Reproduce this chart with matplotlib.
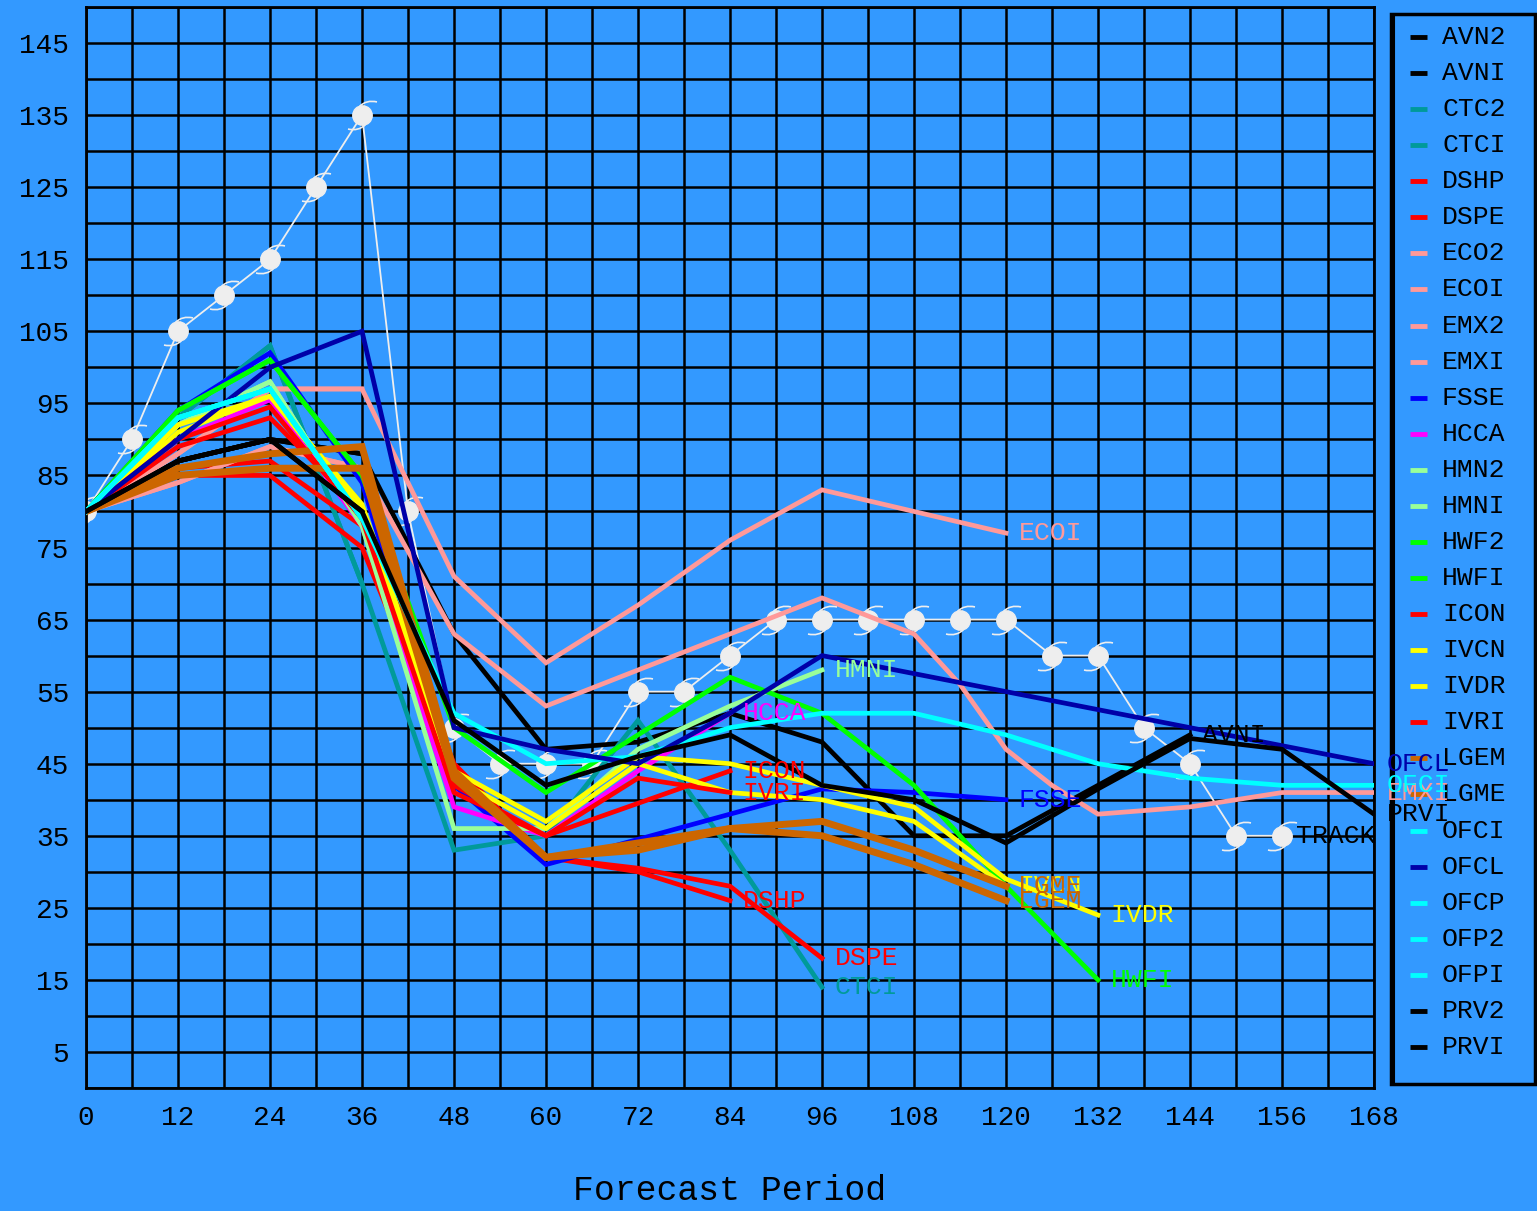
import matplotlib
matplotlib.use('Agg')
import matplotlib.pyplot as plt
from matplotlib.lines import Line2D
from matplotlib.patches import Rectangle
from matplotlib.path import Path

# ---------------- data ----------------
avn2_h = [0, 12, 24, 36]
avn2_v = [80, 87, 90, 88]
avni_h = [0, 12, 24, 36, 48, 60, 72, 84, 96, 108, 120, 132, 144]
avni_v = [80, 87, 90, 88, 63, 47, 48, 52, 48, 35, 35, 42, 49]
ctc2_h = [0, 12, 24, 36]
ctc2_v = [80, 93, 103, 70]
ctci_h = [0, 12, 24, 36, 48, 60, 72, 84, 96]
ctci_v = [80, 93, 103, 70, 33, 35, 51, 33, 14]
dshp_h = [0, 12, 24, 36, 48, 60, 72, 84]
dshp_v = [80, 85, 85, 75, 44, 32, 30, 26]
dspe_h = [0, 12, 24, 36, 48, 60, 72, 84, 96]
dspe_v = [80, 86, 87, 78, 45, 32, 30.5, 28, 18]
eco2_h = [0, 12, 24, 36]
eco2_v = [80, 88, 97, 97]
ecoi_h = [0, 12, 24, 36, 48, 60, 72, 84, 96, 108, 120]
ecoi_v = [80, 88, 97, 97, 71, 59, 67, 76, 83, 80, 77]
emx2_h = [0, 12, 24, 36]
emx2_v = [80, 84, 89, 86]
emxi_h = [0, 12, 24, 36, 48, 60, 72, 84, 96, 108, 114, 120, 126, 132, 138, 144, 150, 156, 162, 168]
emxi_v = [80, 84, 89, 86, 63, 53, 58, 63, 68, 63, 56, 47, 42, 38, 38.5, 39, 40, 41, 41, 41]
fsse_h = [0, 12, 24, 36, 48, 60, 72, 84, 96, 108, 120]
fsse_v = [80, 94, 102, 84, 42, 31, 34.5, 38, 41.5, 41, 40]
hcca_h = [0, 12, 24, 36, 48, 60, 72, 84]
hcca_v = [80, 90, 95.5, 78, 39, 35, 44, 52]
hmn2_h = [0, 12, 24, 36]
hmn2_v = [80, 92, 98, 78]
hmni_h = [0, 12, 24, 36, 48, 60, 72, 84, 96]
hmni_v = [80, 92, 98, 78, 36, 36, 47, 53, 58]
hwf2_h = [0, 12, 24, 36]
hwf2_v = [80, 94, 101, 85]
hwfi_h = [0, 12, 24, 36, 48, 60, 72, 84, 96, 108, 120, 132]
hwfi_v = [80, 94, 101, 85, 50, 41, 49, 57, 52, 42, 28, 15]
icon_h = [0, 12, 24, 36, 48, 60, 72, 84]
icon_v = [80, 89, 93, 80, 42, 35, 39.5, 44]
ivcn_h = [0, 12, 24, 36, 48, 60, 72, 84, 96, 108, 120]
ivcn_v = [80, 91, 96, 80, 43, 36, 45, 41, 40, 37, 28]
ivdr_h = [0, 12, 24, 36, 48, 60, 72, 84, 96, 108, 120, 132]
ivdr_v = [80, 92, 96, 81, 44, 37, 46, 45, 42, 39, 29, 24]
ivri_h = [0, 12, 24, 36, 48, 60, 72, 84]
ivri_v = [80, 90, 94.5, 79, 41, 35, 43, 41]
lgem_h = [0, 12, 24, 36, 48, 60, 72, 84, 96, 108, 120]
lgem_v = [80, 85, 86, 86, 43, 32, 33, 36, 35, 31, 26]
lgme_h = [0, 12, 24, 36, 48, 60, 72, 84, 96, 108, 120]
lgme_v = [80, 86, 88, 89, 44, 32, 34, 36, 37, 33, 28]
ofci_h = [0, 12, 24, 36, 48, 60, 72, 84, 96, 108, 120, 126, 132, 138, 144, 156, 168]
ofci_v = [80, 93, 97, 79, 52, 45, 46, 50, 52, 52, 49, 47, 45, 44, 43, 42, 42]
ofcl_h = [0, 12, 24, 36, 48, 60, 72, 84, 96, 108, 120, 132, 144, 156, 168]
ofcl_v = [80, 90, 100, 105, 50, 47, 45, 52, 60, 57.5, 55, 52.5, 50, 47.5, 45]
ofcp_h = [0, 12, 24, 36]
ofcp_v = [80, 93, 97, 79]
ofp2_h = [0, 12, 24, 36]
ofp2_v = [80, 93, 97, 79]
ofpi_h = [0, 12, 24, 36]
ofpi_v = [80, 93, 97, 79]
prv2_h = [0, 12, 24, 36]
prv2_v = [80, 87, 90, 80]
prvi_h = [0, 12, 24, 36, 48, 60, 72, 84, 96, 108, 120, 132, 144, 156, 168]
prvi_v = [80, 87, 90, 80, 51, 42, 46, 49, 42, 40, 34, 41.5, 48.5, 47, 38]

track_h = [0, 6, 12, 18, 24, 30, 36, 42, 48, 54, 60, 66, 72, 78, 84, 90, 96,
           102, 108, 114, 120, 126, 132, 138, 144, 150, 156]
track_v = [80, 90, 105, 110, 115, 125, 135, 80, 50, 45, 45, 45, 55, 55, 60, 65, 65,
           65, 65, 65, 65, 60, 60, 50, 45, 35, 35]

x_ticks = list(range(0, 169, 6))
x_labels = [str(h) if h % 12 == 0 else '' for h in x_ticks]
y_ticks = list(range(0, 151, 5))
y_labels = [str(v) if v % 10 == 5 else '' for v in y_ticks]
x_title = 'Forecast Period'

# ---------------- styles ----------------
BG = '#3399ff'
FONT = 'Liberation Mono'
C_BLACK = '#000000'
C_TEAL = '#009a9a'
C_RED = '#ff0000'
C_PINK = '#ff9999'
C_BLUE = '#0000ff'
C_MAG = '#ff00ff'
C_LGRN = '#99ff99'
C_GRN = '#00ff00'
C_YEL = '#ffff00'
C_ORG = '#cc6600'
C_CYAN = '#00ffff'
C_DBLUE = '#0000a8'

LW = 3.4
LWO = 5.0
# name, hours, values, colour, linewidth, end-label
models = [
    ('AVN2', avn2_h, avn2_v, C_BLACK, LW, False),
    ('AVNI', avni_h, avni_v, C_BLACK, LW, True),
    ('CTC2', ctc2_h, ctc2_v, C_TEAL, LW, False),
    ('CTCI', ctci_h, ctci_v, C_TEAL, LW, True),
    ('DSHP', dshp_h, dshp_v, C_RED, LW, True),
    ('DSPE', dspe_h, dspe_v, C_RED, LW, True),
    ('ECO2', eco2_h, eco2_v, C_PINK, LW, False),
    ('ECOI', ecoi_h, ecoi_v, C_PINK, LW, True),
    ('EMX2', emx2_h, emx2_v, C_PINK, LW, False),
    ('EMXI', emxi_h, emxi_v, C_PINK, LW, True),
    ('FSSE', fsse_h, fsse_v, C_BLUE, LW, True),
    ('HCCA', hcca_h, hcca_v, C_MAG, LW, True),
    ('HMN2', hmn2_h, hmn2_v, C_LGRN, LW, False),
    ('HMNI', hmni_h, hmni_v, C_LGRN, LW, True),
    ('HWF2', hwf2_h, hwf2_v, C_GRN, LW, False),
    ('HWFI', hwfi_h, hwfi_v, C_GRN, LW, True),
    ('ICON', icon_h, icon_v, C_RED, LW, True),
    ('IVCN', ivcn_h, ivcn_v, C_YEL, LW, True),
    ('IVDR', ivdr_h, ivdr_v, C_YEL, LW, True),
    ('IVRI', ivri_h, ivri_v, C_RED, LW, True),
    ('LGEM', lgem_h, lgem_v, C_ORG, LWO, True),
    ('LGME', lgme_h, lgme_v, C_ORG, LWO, True),
    ('OFCI', ofci_h, ofci_v, C_CYAN, LW, True),
    ('OFCL', ofcl_h, ofcl_v, C_DBLUE, LW, True),
    ('OFCP', ofcp_h, ofcp_v, C_CYAN, LW, False),
    ('OFP2', ofp2_h, ofp2_v, C_CYAN, LW, False),
    ('OFPI', ofpi_h, ofpi_v, C_CYAN, LW, False),
    ('PRV2', prv2_h, prv2_v, C_BLACK, LW, False),
    ('PRVI', prvi_h, prvi_v, C_BLACK, LW, True),
]

W, H = 1537, 1211
fig = plt.figure(figsize=(W / 100, H / 100), dpi=100, facecolor=BG)

# legend panel (drawn beneath the axes so end labels can overlap it)
lx0, ly0, lx1, ly1 = 1391, 14, 1535, 1084
fig.add_artist(Rectangle((lx0 / W, 1 - ly1 / H), (lx1 - lx0) / W, (ly1 - ly0) / H,
                         transform=fig.transFigure, facecolor=BG,
                         edgecolor='black', lw=2.5, zorder=-2))
fig.add_artist(Line2D([(lx0 + 3) / W] * 2, [1 - (ly0 + 2) / H, 1 - (ly1 - 2) / H],
                      transform=fig.transFigure, color='black', lw=1.5, zorder=-1))
row0, step = 37, 36.07
for i, (name, hh, vv, col, lw, lab) in enumerate(models):
    py = row0 + i * step
    fig.add_artist(Line2D([1410 / W, 1427 / W], [1 - py / H] * 2,
                          transform=fig.transFigure, color=col, lw=3.5,
                          solid_capstyle='butt', zorder=-1))
    t = fig.text(1442 / W, 1 - py / H, name, ha='left', va='center',
                 fontfamily=FONT, fontsize=19, color='black')
    t.set_zorder(-1)

L, R, T, B = 86, 1374, 7, 1088
ax = fig.add_axes([L / W, 1 - B / H, (R - L) / W, (B - T) / H], facecolor=BG)
ax.set_xlim(0, 168)
ax.set_ylim(0, 150)

ax.set_xticks(x_ticks)
ax.set_xticklabels(x_labels, fontfamily=FONT, fontsize=20)
ax.set_yticks(y_ticks)
ax.set_yticklabels(y_labels, fontfamily=FONT, fontsize=20)
ax.tick_params(length=0, pad=12, colors='black')
ax.grid(True, color='black', lw=1.8)
ax.set_axisbelow(True)
for s in ax.spines.values():
    s.set_color('black')
    s.set_linewidth(2)

# track with hurricane symbols
hook = Path([(-0.3, 0.95), (0.4, 1.65), (1.5, 1.4),
             (0.3, -0.95), (-0.4, -1.65), (-1.5, -1.4)],
            [Path.MOVETO, Path.CURVE3, Path.CURVE3,
             Path.MOVETO, Path.CURVE3, Path.CURVE3])
TC = '#eeeeee'
ax.plot(track_h, track_v, color=TC, lw=1.3, zorder=2)
ax.plot(track_h, track_v, ls='none', marker='o', ms=14, mfc=TC, mec=TC, zorder=2)
ax.plot(track_h, track_v, ls='none', marker=hook, ms=23, mfc='none', mec=TC,
        mew=1.2, zorder=2)
ax.annotate('TRACK', (track_h[-1], track_v[-1]), xytext=(10, 0),
            textcoords='offset points', va='center', ha='left',
            fontfamily=FONT, fontsize=19, color='black', zorder=6)

for name, hh, vv, col, lw, lab in models:
    ax.plot(hh, vv, color=col, lw=lw, solid_joinstyle='miter', zorder=3)
    if lab:
        ax.annotate(name, (hh[-1], vv[-1]), xytext=(9, 0),
                    textcoords='offset points', va='center', ha='left',
                    fontfamily=FONT, fontsize=19, color=col, zorder=6,
                    annotation_clip=False)

fig.text(730 / W, 1 - 1190 / H, x_title, ha='center', va='center',
         fontfamily=FONT, fontsize=25, color='black')

fig.savefig('out.png', dpi=100, facecolor=BG)
